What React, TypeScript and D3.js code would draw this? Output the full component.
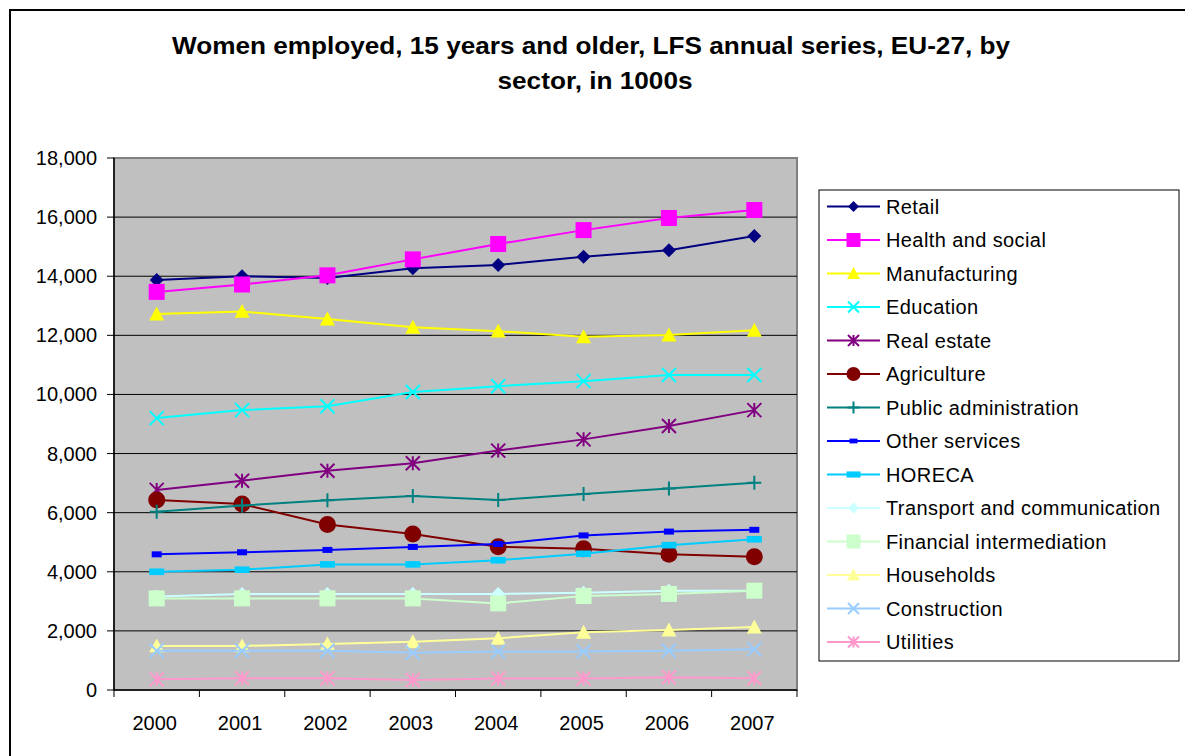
import React from 'react';
import * as d3 from 'd3';

const years = ['2000', '2001', '2002', '2003', '2004', '2005', '2006', '2007'];
const yTicks = [0, 2000, 4000, 6000, 8000, 10000, 12000, 14000, 16000, 18000];

const retail = [13870, 14000, 13940, 14270, 14380, 14660, 14880, 15360];
const health = [13470, 13720, 14030, 14570, 15090, 15560, 15970, 16240];
const manufacturing = [12720, 12810, 12550, 12270, 12140, 11950, 12010, 12170];
const education = [9200, 9470, 9600, 10080, 10280, 10450, 10660, 10660];
const realEstate = [6770, 7080, 7420, 7670, 8100, 8480, 8930, 9470];
const agriculture = [6430, 6290, 5600, 5280, 4850, 4780, 4590, 4510];
const publicAdmin = [6030, 6240, 6420, 6560, 6430, 6630, 6820, 7010];
const otherServices = [4590, 4660, 4740, 4840, 4940, 5230, 5360, 5420];
const horeca = [4000, 4070, 4250, 4250, 4390, 4610, 4900, 5100];
const transport = [3160, 3250, 3250, 3250, 3250, 3290, 3360, 3360];
const financial = [3100, 3100, 3100, 3100, 2930, 3180, 3250, 3360];
const households = [1490, 1490, 1560, 1630, 1750, 1950, 2030, 2130];
const construction = [1330, 1330, 1330, 1260, 1300, 1300, 1330, 1380];
const utilities = [360, 400, 400, 340, 390, 390, 430, 400];

type Marker = 'diamond' | 'square' | 'triangle' | 'x' | 'star' | 'circle' | 'plus' | 'dash' | 'bar';

const series: { name: string; values: number[]; color: string; marker: Marker }[] = [
  { name: 'Retail', values: retail, color: '#000080', marker: 'diamond' },
  { name: 'Health and social', values: health, color: '#FF00FF', marker: 'square' },
  { name: 'Manufacturing', values: manufacturing, color: '#FFFF00', marker: 'triangle' },
  { name: 'Education', values: education, color: '#00FFFF', marker: 'x' },
  { name: 'Real estate', values: realEstate, color: '#800080', marker: 'star' },
  { name: 'Agriculture', values: agriculture, color: '#800000', marker: 'circle' },
  { name: 'Public administration', values: publicAdmin, color: '#008080', marker: 'plus' },
  { name: 'Other services', values: otherServices, color: '#0000FF', marker: 'dash' },
  { name: 'HORECA', values: horeca, color: '#00CCFF', marker: 'bar' },
  { name: 'Transport and communication', values: transport, color: '#CCFFFF', marker: 'diamond' },
  { name: 'Financial intermediation', values: financial, color: '#CCFFCC', marker: 'square' },
  { name: 'Households', values: households, color: '#FFFF99', marker: 'triangle' },
  { name: 'Construction', values: construction, color: '#99CCFF', marker: 'x' },
  { name: 'Utilities', values: utilities, color: '#FF99CC', marker: 'star' },
];

const W = 1185;
const H = 756;
const plot = { left: 114, right: 797, top: 158, bottom: 690 };
const font = '"Liberation Sans", Arial, sans-serif';

const x = d3.scaleBand<string>().domain(years).range([plot.left, plot.right]);
const y = d3.scaleLinear().domain([0, 18000]).range([plot.bottom, plot.top]);

// draws one marker centred on (cx, cy); s is the nominal size in px
function drawMarker(m: Marker, cx: number, cy: number, color: string, s: number, key?: string) {
  const h = s / 2;
  switch (m) {
    case 'diamond':
      return <path key={key} d={`M${cx},${cy - h}L${cx + h},${cy}L${cx},${cy + h}L${cx - h},${cy}Z`} fill={color} />;
    case 'square':
      return <rect key={key} x={cx - h} y={cy - h} width={s} height={s} fill={color} />;
    case 'triangle':
      return <path key={key} d={`M${cx},${cy - h}L${cx + h},${cy + h * 0.85}L${cx - h},${cy + h * 0.85}Z`} fill={color} />;
    case 'circle':
      return <circle key={key} cx={cx} cy={cy} r={h} fill={color} />;
    case 'x':
      return <path key={key} d={`M${cx - h},${cy - h}L${cx + h},${cy + h}M${cx + h},${cy - h}L${cx - h},${cy + h}`} stroke={color} strokeWidth={2} fill="none" />;
    case 'plus':
      return <path key={key} d={`M${cx - h},${cy}L${cx + h},${cy}M${cx},${cy - h}L${cx},${cy + h}`} stroke={color} strokeWidth={2} fill="none" />;
    case 'star':
      return <path key={key} d={`M${cx - h},${cy - h}L${cx + h},${cy + h}M${cx + h},${cy - h}L${cx - h},${cy + h}M${cx},${cy - h}L${cx},${cy + h}`} stroke={color} strokeWidth={2} fill="none" />;
    case 'dash':
      return <rect key={key} x={cx - s * 0.5} y={cy - s * 0.3} width={s} height={s * 0.6} fill={color} />;
    case 'bar':
      return <rect key={key} x={cx - s * 0.5} y={cy - s * 0.22} width={s} height={s * 0.44} fill={color} />;
  }
}

const markerSize: Record<Marker, number> = {
  diamond: 14, square: 16, triangle: 15, x: 14, star: 14, circle: 17, plus: 14, dash: 10, bar: 15,
};
const legendSize: Record<Marker, number> = {
  diamond: 11, square: 14, triangle: 13, x: 11, star: 11, circle: 14, plus: 12, dash: 8, bar: 14,
};

export default function App() {
  const line = d3
    .line<number>()
    .x((_, i) => (x(years[i]) as number) + x.bandwidth() / 2)
    .y((v) => y(v));

  const legend = { x: 819, y: 190, w: 360, h: 471, rowH: 33.5, first: 206.5 };

  return (
    <svg width={W} height={H} style={{ position: 'absolute', left: 0, top: 0 }} fontFamily={font}>
      <rect x={0} y={0} width={W} height={H} fill="#fff" />
      <rect x={10} y={10} width={W + 10} height={H + 10} fill="#fff" stroke="#000" strokeWidth={2} />

      <text x={591} y={54} textAnchor="middle" fontSize={24} fontWeight="bold" textLength={838} lengthAdjust="spacingAndGlyphs">
        Women employed, 15 years and older, LFS annual series, EU-27, by
      </text>
      <text x={595} y={89} textAnchor="middle" fontSize={24} fontWeight="bold" textLength={195} lengthAdjust="spacingAndGlyphs">
        sector, in 1000s
      </text>

      {/* plot area */}
      <rect x={plot.left} y={plot.top} width={plot.right - plot.left} height={plot.bottom - plot.top} fill="#C0C0C0" stroke="#808080" strokeWidth={2} />
      {yTicks.slice(1, -1).map((t) => (
        <line key={t} x1={plot.left} x2={plot.right} y1={y(t)} y2={y(t)} stroke="#000" strokeWidth={1} />
      ))}

      {/* axes */}
      <line x1={plot.left} x2={plot.left} y1={plot.top} y2={plot.bottom} stroke="#000" strokeWidth={1.5} />
      <line x1={plot.left} x2={plot.right} y1={plot.bottom} y2={plot.bottom} stroke="#000" strokeWidth={1.5} />
      {yTicks.map((t) => (
        <g key={t}>
          <line x1={plot.left - 7} x2={plot.left} y1={y(t)} y2={y(t)} stroke="#000" strokeWidth={1} />
          <text x={97} y={y(t) + 7} textAnchor="end" fontSize={20}>
            {d3.format(',')(t)}
          </text>
        </g>
      ))}
      {years.map((yr) => (
        <g key={yr}>
          <line x1={x(yr) as number} x2={x(yr) as number} y1={plot.bottom} y2={plot.bottom + 7} stroke="#000" strokeWidth={1} />
          <text x={(x(yr) as number) + x.bandwidth() / 2 - 2} y={730} textAnchor="middle" fontSize={20}>
            {yr}
          </text>
        </g>
      ))}
      <line x1={plot.right} x2={plot.right} y1={plot.bottom} y2={plot.bottom + 7} stroke="#000" strokeWidth={1} />

      {/* series */}
      {series.map((s) => (
        <g key={s.name}>
          <path d={line(s.values) as string} fill="none" stroke={s.color} strokeWidth={2} />
          {s.values.map((v, i) =>
            drawMarker(s.marker, (x(years[i]) as number) + x.bandwidth() / 2, y(v), s.color, markerSize[s.marker], String(i))
          )}
        </g>
      ))}

      {/* legend */}
      <rect x={legend.x} y={legend.y} width={legend.w} height={legend.h} fill="#fff" stroke="#000" strokeWidth={1} />
      {series.map((s, i) => {
        const cy = legend.first + i * legend.rowH;
        return (
          <g key={s.name}>
            <line x1={827} x2={880} y1={cy} y2={cy} stroke={s.color} strokeWidth={2} />
            {drawMarker(s.marker, 853.5, cy, s.color, legendSize[s.marker])}
            <text x={886} y={cy + 7} fontSize={20} letterSpacing={0.4}>
              {s.name}
            </text>
          </g>
        );
      })}
    </svg>
  );
}
